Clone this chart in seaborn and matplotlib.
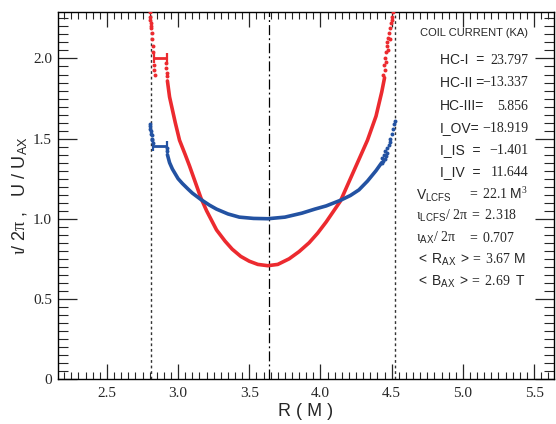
import matplotlib
matplotlib.use("Agg")
import matplotlib.pyplot as plt
from matplotlib.ticker import MultipleLocator, FixedLocator, FixedFormatter
import seaborn as sns
import pandas as pd

# ---------------- data ----------------
red_R = [2.925, 2.94, 2.96, 2.98, 3.01, 3.05, 3.08, 3.12, 3.16, 3.20, 3.27, 3.33,
         3.38, 3.44, 3.50, 3.56, 3.63, 3.70, 3.78, 3.85, 3.92, 3.98, 4.04, 4.09,
         4.14, 4.18, 4.22, 4.27, 4.33, 4.39, 4.43, 4.45]
red_v = [1.86, 1.76, 1.68, 1.60, 1.49, 1.40, 1.33, 1.23, 1.13, 1.05, 0.93, 0.86,
         0.81, 0.765, 0.735, 0.715, 0.707, 0.715, 0.75, 0.795, 0.85, 0.91, 0.98, 1.045,
         1.11, 1.19, 1.27, 1.37, 1.49, 1.64, 1.79, 1.88]

blue_R = [2.925, 2.94, 2.96, 3.00, 3.03, 3.07, 3.10, 3.16, 3.22, 3.27, 3.35, 3.43,
          3.53, 3.63, 3.75, 3.87, 3.96, 4.04, 4.14, 4.21, 4.27, 4.33, 4.39, 4.43]
blue_v = [1.40, 1.35, 1.31, 1.25, 1.22, 1.185, 1.16, 1.12, 1.085, 1.06, 1.03, 1.01,
          1.002, 1.0, 1.01, 1.035, 1.06, 1.08, 1.115, 1.145, 1.18, 1.235, 1.30, 1.35]

red_edge_R = [2.800, 2.803, 2.806, 2.808, 2.810, 2.812, 2.815, 2.818, 2.822, 2.826,
              2.830, 2.834, 2.836, 2.915, 2.918, 2.920, 2.922,
              4.44, 4.445, 4.45, 4.455, 4.46, 4.462, 4.465, 4.47, 4.472, 4.475,
              4.48, 4.485, 4.49, 4.495, 4.50, 4.505, 4.51]
red_edge_v = [2.29, 2.26, 2.24, 2.22, 2.20, 2.19, 2.16, 2.12, 2.08, 2.04,
              1.96, 1.93, 1.90, 1.97, 1.94, 1.91, 1.89,
              1.90, 1.96, 1.93, 2.00, 2.04, 1.98, 2.08, 2.10, 2.05, 2.13,
              2.16, 2.12, 2.19, 2.22, 2.24, 2.26, 2.29]

blue_edge_R = [2.800, 2.803, 2.806, 2.809, 2.812, 2.815, 2.818, 2.820, 2.822, 2.920, 2.922,
               4.43, 4.435, 4.44, 4.445, 4.45, 4.455, 4.46, 4.465, 4.47, 4.48,
               4.485, 4.49, 4.50, 4.51, 4.515, 4.52]
blue_edge_v = [1.59, 1.58, 1.56, 1.55, 1.53, 1.52, 1.50, 1.49, 1.47, 1.44, 1.42,
               1.35, 1.38, 1.36, 1.40, 1.37, 1.42, 1.39, 1.44, 1.41, 1.46,
               1.48, 1.50, 1.53, 1.56, 1.59, 1.61]

# horizontal "H" bars (R_lo, R_hi, value)
red_bar = [2.830, 2.920, 2.00]
blue_bar = [2.822, 2.920, 1.456]

# vertical reference lines
lcfs_lines = [2.81, 4.52]
axis_line = [3.635]

x_ticks = [2.5, 3.0, 3.5, 4.0, 4.5, 5.0, 5.5]
x_tick_labels = ["2.5", "3.0", "3.5", "4.0", "4.5", "5.0", "5.5"]
y_ticks = [0, 0.5, 1.0, 1.5, 2.0]
y_tick_labels = ["0", "0.5", "1.0", "1.5", "2.0"]

coil_labels = ["HC-I  =", "HC-II =", "HC-III=", "I_OV=", "I_IS  =", "I_IV  ="]
coil_values = ["23.797", "\u221213.337", "5.856", "\u221218.919", "\u22121.401", "11.644"]

# ---------------- style ----------------
sns.set_style("ticks")
plt.rcParams.update({
    "mathtext.fontset": "custom",
    "mathtext.rm": "Liberation Serif",
    "mathtext.sf": "Liberation Sans",
    "mathtext.it": "Liberation Serif:italic",
    "mathtext.default": "rm",
    "font.family": ["Liberation Serif", "DejaVu Sans"],
    "axes.linewidth": 1.0,
    "axes.edgecolor": "black",
})

RED = "#ec2a2f"
BLUE = "#2352a2"
W, H = 556, 424

fig = plt.figure(figsize=(W / 100, H / 100), dpi=100)
ax = fig.add_axes([57.5 / W, (H - 379) / H, (554 - 57.5) / W, (379 - 12) / H])

df_red = pd.DataFrame({"R": red_R, "v": red_v})
df_blue = pd.DataFrame({"R": blue_R, "v": blue_v})
df_red_e = pd.DataFrame({"R": red_edge_R, "v": red_edge_v})
df_blue_e = pd.DataFrame({"R": blue_edge_R, "v": blue_edge_v})

for x in lcfs_lines:
    ax.axvline(x, color="#333333", lw=1.0, ls=(0, (2, 2)), zorder=1)
for x in axis_line:
    ax.axvline(x, color="black", lw=0.9, ls=(0, (8, 2.5, 1.5, 2.5)), zorder=1)

sns.lineplot(data=df_red, x="R", y="v", ax=ax, color=RED, lw=2.6, sort=False,
             solid_capstyle="round", zorder=3)
sns.lineplot(data=df_blue, x="R", y="v", ax=ax, color=BLUE, lw=2.6, sort=False,
             solid_capstyle="round", zorder=3)
sns.scatterplot(data=df_red_e, x="R", y="v", ax=ax, color=RED, s=8, linewidth=0, zorder=3)
sns.scatterplot(data=df_blue_e, x="R", y="v", ax=ax, color=BLUE, s=8, linewidth=0, zorder=3)

for bar, c in ((red_bar, RED), (blue_bar, BLUE)):
    lo, hi, v = bar
    ax.errorbar([(lo + hi) / 2], [v], xerr=[(hi - lo) / 2], fmt="none", ecolor=c,
                elinewidth=2.0, capsize=3.5, capthick=1.6, zorder=3)

ax.set_xlim(2.153, 5.64)
ax.set_ylim(0, 2.29)

ax.xaxis.set_major_locator(FixedLocator(x_ticks))
ax.xaxis.set_major_formatter(FixedFormatter(x_tick_labels))
ax.yaxis.set_major_locator(FixedLocator(y_ticks))
ax.yaxis.set_major_formatter(FixedFormatter(y_tick_labels))
ax.xaxis.set_minor_locator(MultipleLocator(0.05))
ax.yaxis.set_minor_locator(MultipleLocator(0.05))

ax.tick_params(axis="x", which="major", direction="in", length=10.5, width=0.9,
               top=True, bottom=True, labelsize=11, pad=6)
ax.tick_params(axis="x", which="minor", direction="in", length=5, width=0.8,
               top=True, bottom=True)
ax.tick_params(axis="y", which="major", direction="in", length=14, width=0.9,
               left=True, right=True, labelsize=11, pad=4)
ax.tick_params(axis="y", which="minor", direction="in", length=7.5, width=0.8,
               left=True, right=True)
for lab in ax.get_xticklabels() + ax.get_yticklabels():
    lab.set_fontfamily("Liberation Serif")

ax.set_xlabel("R ( M )", fontsize=13, family="Liberation Sans", labelpad=2)
ax.set_ylabel(r"$\iota$/ 2$\pi$ ,   U / U$_{\mathsf{AX}}$", fontsize=13,
              family="Liberation Sans", labelpad=2)

# ---------------- text panel ----------------
def fx(px):
    return px / W

def fy(py):
    return 1 - py / H

fig.text(fx(474), fy(33), "COIL CURRENT (KA)", family="Liberation Sans",
         fontsize=8, ha="center", va="center")

ys = [60, 83, 106, 128, 150, 172]
for lab, val, y in zip(coil_labels, coil_values, ys):
    fig.text(fx(440), fy(y), lab, family="Liberation Sans", fontsize=10,
             ha="left", va="center")
    fig.text(fx(528), fy(y), val, family="Liberation Serif", fontsize=10,
             ha="right", va="center")

fig.text(fx(416), fy(196), r"$\mathsf{V_{LCFS}}$", fontsize=10, ha="left", va="center")
fig.text(fx(528), fy(194), r"$=\ 22.1\ \mathsf{M}^{3}$", fontsize=10, ha="right", va="center")
fig.text(fx(416), fy(216), r"$\iota_{\mathsf{LCFS}}/\ 2\pi\ =\ 2.318$", fontsize=10,
         ha="left", va="center")
fig.text(fx(416), fy(238), r"$\iota_{\mathsf{AX}}/\ 2\pi$", fontsize=10, ha="left", va="center")
fig.text(fx(515), fy(238), r"$=\ 0.707$", fontsize=10, ha="right", va="center")
fig.text(fx(416), fy(260), r"$\mathsf{<\ R_{AX}\ >}=\ 3.67\ \mathsf{M}$", fontsize=10,
         ha="left", va="center")
fig.text(fx(416), fy(282), r"$\mathsf{<\ B_{AX}\ >}=\ 2.69\ \ \mathsf{T}$", fontsize=10,
         ha="left", va="center")

fig.savefig("out.png", dpi=100)
